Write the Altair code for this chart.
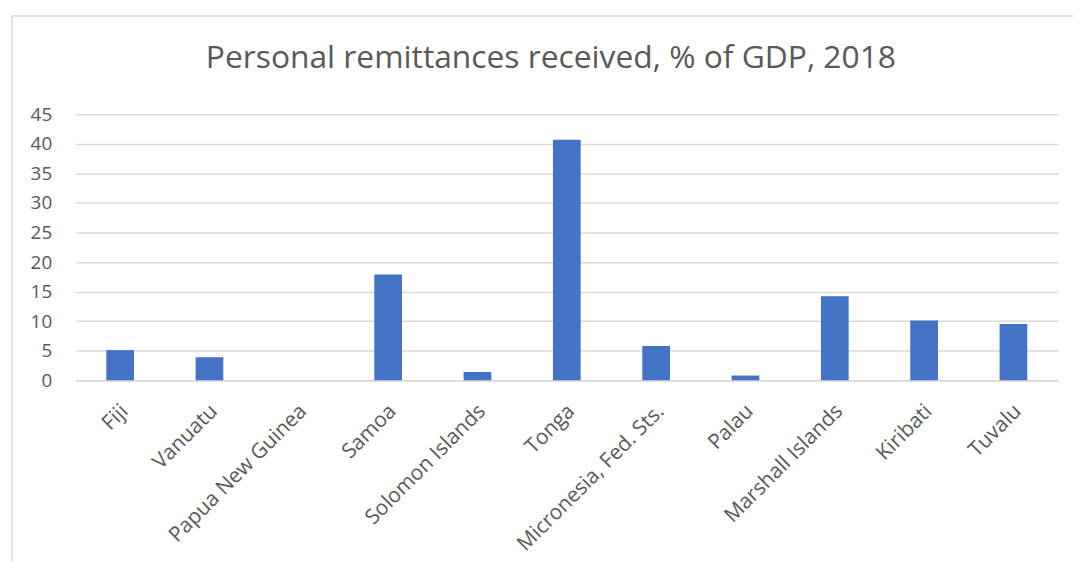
import altair as alt
import pandas as pd

countries = ["Fiji", "Vanuatu", "Papua New Guinea", "Samoa", "Solomon Islands",
             "Tonga", "Micronesia, Fed. Sts.", "Palau", "Marshall Islands",
             "Kiribati", "Tuvalu"]
values = [5.1, 3.9, 0.0, 17.9, 1.4, 40.7, 5.8, 0.8, 14.2, 10.1, 9.5]
title_text = "Personal remittances received, % of GDP, 2018"

df = pd.DataFrame({"country": countries, "value": values})

W, H = 990, 268
FONT = "Open Sans"
TXT = "#595959"
GRID = "#d9d9d9"

bars = alt.Chart(df).mark_bar(color="#4472C4").encode(
    x=alt.X("country:N", sort=countries, title=None,
            scale=alt.Scale(paddingInner=0.69, paddingOuter=0.345),
            axis=alt.Axis(labelAngle=-45, labelFontSize=21, labelColor=TXT,
                          labelFont=FONT, ticks=False, domainColor=GRID,
                          domainWidth=1.5, labelPadding=20, labelOffset=-3,
                          labelLimit=300)),
    y=alt.Y("value:Q", title=None,
            scale=alt.Scale(domain=[0, 45], nice=False),
            axis=alt.Axis(values=list(range(0, 50, 5)), labelFontSize=19,
                          labelColor=TXT, labelFont=FONT, ticks=False,
                          domain=False, gridColor=GRID, gridWidth=1.5,
                          labelPadding=24)),
)

border = alt.Chart(alt.Data(values=[{}])).mark_rect(
    fill=None, stroke=GRID, strokeWidth=1.5
).encode(
    x=alt.value(-64), x2=alt.value(W + 100),
    y=alt.value(-99), y2=alt.value(H + 400),
)

title = alt.Chart(alt.Data(values=[{"t": title_text}])).mark_text(
    font=FONT, fontSize=32, color=TXT, align="center", baseline="alphabetic"
).encode(
    text="t:N", x=alt.value(479), y=alt.value(-47),
)

chart = alt.layer(border, bars, title).properties(
    width=W, height=H,
    autosize=alt.AutoSizeParams(type="none"),
    padding={"left": 68, "top": 105, "right": 15, "bottom": 180},
).configure_view(stroke=None)

chart.save("out.html", embed_options={"renderer": "svg", "actions": False})
